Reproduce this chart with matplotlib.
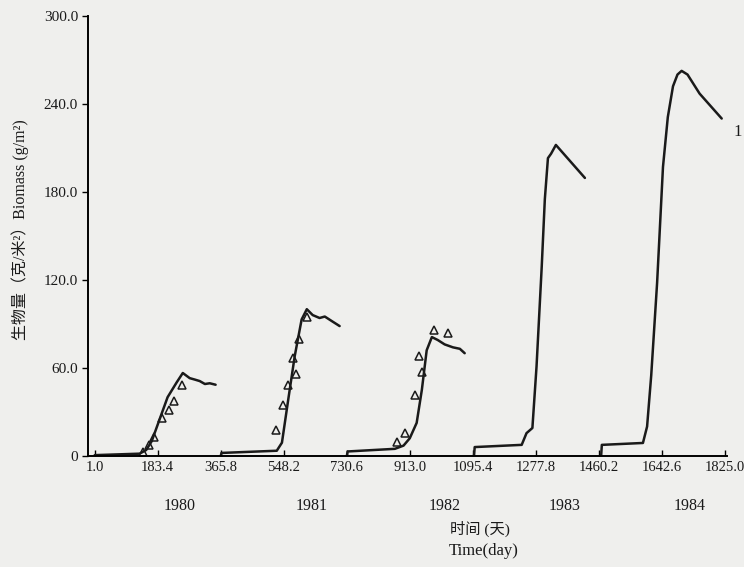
import matplotlib
matplotlib.use("Agg")
import matplotlib.pyplot as plt
import numpy as np

plt.rcParams['font.family'] = ['Liberation Serif', 'Noto Sans CJK SC']

# simulated biomass, one run per year (day, g/m2)
day_1980 = [1, 131, 150, 166, 189, 212, 238, 256, 276, 291, 305, 320, 334, 351]
sim_1980 = [0.5, 1.5, 4, 10, 25, 40, 50, 56.5, 53, 52, 51, 49, 49.5, 48.5]
day_1981 = [366, 368, 528, 543, 561, 580, 600, 615, 632, 652, 667, 690, 710]
sim_1981 = [0, 2, 3.5, 9, 38, 68, 93, 100, 96, 94, 95, 91.5, 88.5]
day_1982 = [731, 733, 870, 895, 913, 933, 948, 962, 977, 994, 1014, 1038, 1058, 1072]
sim_1982 = [0, 3, 4.8, 7, 12, 22.5, 45, 72, 81, 79, 76, 74, 73, 70]
day_1983 = [1099, 1101, 1237, 1251, 1268, 1280, 1295, 1304, 1313, 1322, 1336, 1420]
sim_1983 = [0, 6, 7.5, 15.5, 19, 61, 129, 175, 203, 206, 212, 189.5]
day_1984 = [1467, 1469, 1588, 1600, 1612, 1629, 1646, 1660, 1675, 1688, 1700, 1717, 1752, 1816]
sim_1984 = [0, 7.5, 8.8, 20, 55, 118, 197, 231, 252, 260, 262.5, 260, 247, 230]

# observed biomass (triangles)
obs_day_1980 = [140, 157, 172, 195, 215, 230, 253]
obs_1980 = [2.7, 7.5, 13, 26, 31, 37.5, 48]
obs_day_1981 = [525, 545, 560, 583, 575, 592, 615]
obs_1981 = [17.7, 35, 48, 56, 67, 80, 95]
obs_day_1982 = [875, 898, 928, 948, 940, 983, 1023]
obs_1982 = [9.5, 15.5, 41.5, 57, 68, 86, 84]

x_ticks = [1.0, 183.4, 365.8, 548.2, 730.6, 913.0, 1095.4, 1277.8, 1460.2, 1642.6, 1825.0]
y_ticks = [0, 60, 120, 180, 240, 300]
y_tick_labels = ["0", "60.0", "120.0", "180.0", "240.0", "300.0"]
years = ["1980", "1981", "1982", "1983", "1984"]
year_pos = [247, 630, 1014, 1362, 1724]

paper = "#efefed"
ink = "#1a1a1a"

fig = plt.figure(figsize=(7.44, 5.67), dpi=100, facecolor=paper)
ax = fig.add_axes([0.118, 0.196, 0.859, 0.776], facecolor=paper)

runs = [(day_1980, sim_1980), (day_1981, sim_1981), (day_1982, sim_1982),
        (day_1983, sim_1983), (day_1984, sim_1984)]
for d, v in runs:
    ax.plot(d, v, color=ink, lw=1.8, solid_joinstyle="round", solid_capstyle="round")

for d, v in [(obs_day_1980, obs_1980), (obs_day_1981, obs_1981), (obs_day_1982, obs_1982)]:
    ax.plot(d, v, ls="none", marker="^", ms=6, mfc="none", mec=ink, mew=1.1)

ax.set_xlim(-19, 1831)
ax.set_ylim(0, 300)
ax.spines["top"].set_visible(False)
ax.spines["right"].set_visible(False)
ax.spines["left"].set_linewidth(1.4)
ax.spines["bottom"].set_linewidth(1.4)

ax.set_xticks(x_ticks)
ax.set_xticklabels([f"{t:.1f}" for t in x_ticks], fontsize=10.5, color=ink)
ax.set_yticks(y_ticks)
ax.set_yticklabels(y_tick_labels, fontsize=11, color=ink)
ax.tick_params(axis="x", direction="in", length=4, width=1, pad=4)
ax.tick_params(axis="y", direction="out", length=4, width=1, pad=3)

for yr, xp in zip(years, year_pos):
    ax.annotate(yr, (xp, 0), xytext=(0, -36), textcoords="offset points",
                ha="center", va="center", fontsize=11.5, color=ink,
                xycoords=("data", "axes fraction"))

ax.text(1.01, 0.735, "1", transform=ax.transAxes, fontsize=12, color=ink,
        ha="left", va="center")

fig.text(0.645, 0.068, "时间 (天)", ha="center", va="center", fontsize=11, color=ink)
fig.text(0.65, 0.028, "Time(day)", ha="center", va="center", fontsize=12, color=ink)
fig.text(0.027, 0.595, "生物量（克/米²）Biomass (g/m²)", rotation=90,
         ha="center", va="center", fontsize=11.5, color=ink)

fig.savefig("out.png", dpi=100, facecolor=paper)
